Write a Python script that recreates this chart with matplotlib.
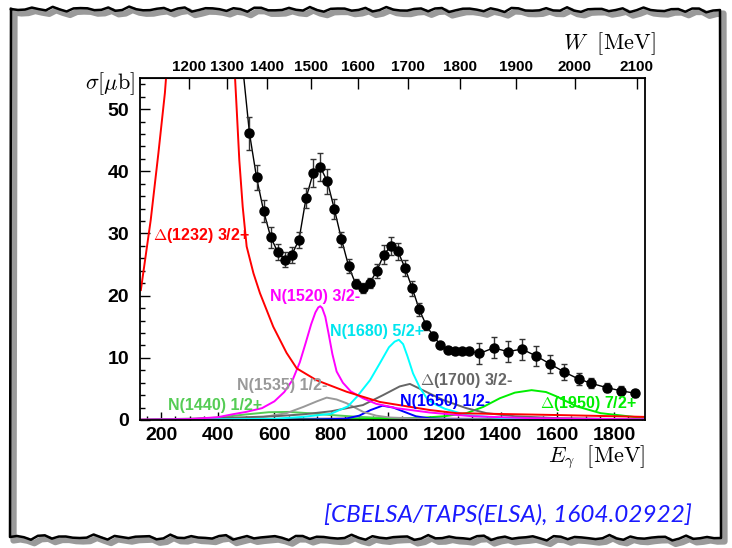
import numpy as np
import matplotlib.pyplot as plt
from matplotlib.lines import Line2D
from matplotlib.ticker import MultipleLocator

plt.rcParams['font.family'] = ['Liberation Sans', 'DejaVu Sans']
plt.rcParams['mathtext.fontset'] = 'cm'

MP = 938.27  # proton mass [MeV]

# ---- measured total cross section ----
e_gamma = [512, 537, 562, 587, 612, 637, 662, 687, 712, 737, 762, 787, 812, 837,
           862, 887, 912, 937, 962, 987, 1012, 1037, 1062, 1087, 1112, 1137, 1162,
           1187, 1212, 1237, 1262, 1287, 1325, 1375, 1425, 1475, 1525, 1575, 1625,
           1675, 1720, 1775, 1825, 1875]
sigma = [46.1, 39.0, 33.6, 29.4, 27.0, 25.8, 26.6, 29.0, 35.7, 39.7, 40.7, 38.4,
         33.9, 29.1, 24.8, 21.9, 21.3, 22.0, 24.0, 26.6, 28.0, 27.1, 24.4, 21.2,
         17.8, 15.2, 13.5, 12.1, 11.3, 11.1, 11.1, 11.1, 10.7, 11.6, 11.0, 11.4,
         10.3, 9.0, 7.7, 6.6, 5.9, 5.2, 4.7, 4.3]
sigma_err = [2.6, 2.0, 1.8, 1.7, 1.3, 1.2, 1.3, 1.3, 1.6, 2.2, 2.2, 2.0, 1.6, 1.2,
             1.1, 0.7, 0.8, 0.8, 1.1, 1.5, 1.5, 1.4, 1.3, 1.2, 1.0, 0.8, 0.7, 0.5,
             0.5, 0.5, 0.5, 0.5, 1.7, 1.7, 1.7, 1.7, 1.6, 1.4, 1.3, 1.0, 0.8, 0.7,
             0.7, 0.6]

# total fit (starts above the frame)
fit_e = [488] + e_gamma
fit_s = [56.8] + sigma

# ---- partial wave contributions ----
d1232_e = [128, 163, 190, 213, 222, 455, 461, 467, 476, 488, 502, 526, 549, 596,
           643, 679, 749, 855, 973, 1150, 1244, 1597, 1910]
d1232_s = [20.9, 32.2, 42.9, 52.6, 58.0, 60.0, 55.0, 49.8, 41.8, 34.3, 27.9, 23.6,
           20.4, 15.0, 10.8, 8.3, 6.4, 4.55, 2.9, 1.6, 1.1, 0.8, 0.5]

n1520_e = [128, 300, 400, 450, 500, 556, 600, 635, 665, 690, 710, 730, 745, 755,
           762, 769, 780, 792, 805, 820, 842, 870, 913, 960, 1032, 1150, 1300, 1500,
           1910]
n1520_s = [0.05, 0.15, 0.45, 0.9, 1.3, 1.9, 3.0, 4.5, 6.5, 9.3, 12.3, 15.4, 17.3,
           18.1, 18.3, 18.0, 16.6, 13.8, 10.6, 7.8, 6.0, 4.6, 3.5, 2.6, 1.9, 1.2,
           0.6, 0.3, 0.1]

n1680_e = [128, 600, 700, 800, 860, 891, 938, 975, 1005, 1025, 1040, 1055, 1070,
           1090, 1114, 1140, 1165, 1203, 1279, 1421, 1600, 1910]
n1680_s = [0.0, 0.2, 0.5, 1.0, 2.2, 3.7, 6.4, 9.3, 11.7, 12.6, 12.9, 12.2, 10.3,
           7.5, 5.2, 3.4, 2.6, 1.8, 0.8, 0.25, 0.1, 0.05]

d1700_e = [128, 400, 600, 700, 800, 913, 984, 1043, 1079, 1138, 1197, 1279, 1350,
           1450, 1600, 1910]
d1700_s = [0.05, 0.3, 0.6, 0.9, 1.4, 2.4, 4.0, 5.4, 5.8, 4.5, 3.2, 1.9, 1.1, 0.6,
           0.3, 0.1]

n1535_e = [128, 400, 550, 643, 702, 750, 785, 820, 855, 914, 960, 1008, 1150,
           1400, 1910]
n1535_s = [0.0, 0.1, 0.4, 1.1, 2.1, 3.0, 3.6, 3.3, 2.7, 1.3, 0.7, 0.4, 0.15,
           0.05, 0.0]

n1650_e = [128, 700, 850, 900, 940, 982, 1020, 1060, 1100, 1150, 1300, 1910]
n1650_s = [0.0, 0.05, 0.2, 0.7, 1.6, 2.3, 2.0, 1.3, 0.6, 0.25, 0.05, 0.0]

n1440_e = [128, 300, 400, 500, 580, 650, 720, 800, 900, 1000, 1200, 1910]
n1440_s = [0.0, 0.1, 0.4, 0.9, 1.25, 1.3, 1.1, 0.8, 0.5, 0.3, 0.15, 0.05]

d1950_e = [128, 600, 900, 1100, 1200, 1279, 1338, 1397, 1450, 1509, 1560, 1597,
           1668, 1753, 1870, 1910]
d1950_s = [0.0, 0.05, 0.15, 0.3, 0.6, 1.1, 2.1, 3.5, 4.4, 4.8, 4.5, 3.8, 2.2,
           1.1, 0.5, 0.4]

other_e = [128, 400, 700, 1000, 1300, 1600, 1910]
other_s = [0.05, 0.1, 0.2, 0.25, 0.2, 0.15, 0.1]

w_ticks = [1200, 1300, 1400, 1500, 1600, 1700, 1800, 1900, 2000, 2100]


def e_to_w(e):
    e = np.asarray(e, dtype=float)
    return np.sqrt(np.maximum(MP**2 + 2 * MP * e, 1.0))


def w_to_e(w):
    w = np.asarray(w, dtype=float)
    return (w**2 - MP**2) / (2 * MP)


fig = plt.figure(figsize=(7.32, 5.48), dpi=100)
ax = fig.add_axes([140 / 732, 128 / 548, 505 / 732, 342 / 548])

curves = [
    (other_e, other_s, '#993399'),
    (n1440_e, n1440_s, '#55cc55'),
    (d1950_e, d1950_s, '#00ee00'),
    (n1650_e, n1650_s, '#0000ff'),
    (n1535_e, n1535_s, '#999999'),
    (d1700_e, d1700_s, '#666666'),
    (n1680_e, n1680_s, '#00ffff'),
    (n1520_e, n1520_s, '#ff00ff'),
    (d1232_e, d1232_s, '#ff0000'),
]
for xe, ys, c in curves:
    ax.plot(xe, ys, color=c, lw=1.4, zorder=2)

ax.plot(fit_e, fit_s, color='black', lw=1.0, zorder=3)
ax.errorbar(e_gamma, sigma, yerr=sigma_err, fmt='o', color='black', ms=6.5,
            ecolor='#333333', elinewidth=1.0, capsize=2.5, capthick=1.0, zorder=4)

# labels of the contributions
lab_kw = dict(fontsize=11.5, fontweight='bold', va='center', ha='left', zorder=5)
ax.text(171, 29.7, r'$\Delta$(1232) 3/2+', color='#ff0000', **lab_kw)
ax.text(584, 19.9, 'N(1520) 3/2-', color='#ff00ff', **lab_kw)
ax.text(796, 14.3, 'N(1680) 5/2+', color='#00e5ee', **lab_kw)
ax.text(468, 5.5, 'N(1535) 1/2-', color='#999999', **lab_kw)
ax.text(1114, 6.4, r'$\Delta$(1700) 3/2-', color='#666666', **lab_kw)
ax.text(1044, 3.05, 'N(1650) 1/2-', color='#0000ff', **lab_kw)
ax.text(224, 2.4, 'N(1440) 1/2+', color='#55cc55', **lab_kw)
ax.text(1538, 2.7, r'$\Delta$(1950) 7/2+', color='#00ee00', **lab_kw)

ax.set_xlim(125, 1910)
ax.set_ylim(0, 55)
ax.xaxis.set_major_locator(MultipleLocator(200))
ax.xaxis.set_minor_locator(MultipleLocator(50))
ax.yaxis.set_major_locator(MultipleLocator(10))
ax.yaxis.set_minor_locator(MultipleLocator(2))
ax.tick_params(axis='x', which='major', direction='in', length=6, width=1,
               labelsize=14, pad=5)
ax.tick_params(axis='x', which='minor', direction='in', length=3, width=1)
ax.tick_params(axis='y', which='major', direction='in', length=7.5, width=1,
               labelsize=14, pad=8)
ax.tick_params(axis='y', which='minor', direction='in', length=3.8, width=1)
for lbl in ax.get_xticklabels() + ax.get_yticklabels():
    lbl.set_fontweight('bold')
for s in ax.spines.values():
    s.set_linewidth(1.3)

top = ax.secondary_xaxis('top', functions=(e_to_w, w_to_e))
top.set_xticks(w_ticks)
top.xaxis.set_minor_locator(plt.NullLocator())
top.tick_params(direction='in', length=8, width=1, labelsize=11, pad=3)
for lbl in top.get_xticklabels():
    lbl.set_fontweight('bold')

ax.text(-0.01, 0.985, r'$\sigma[\mu\mathrm{b}]$', transform=ax.transAxes,
        ha='right', va='center', fontsize=16)
ax.text(1.02, 1.10, r'$W\ \ [\mathrm{MeV}]$', transform=ax.transAxes,
        ha='right', va='center', fontsize=16)
ax.text(1.0, -0.108, r'$E_{\gamma}\ \ [\mathrm{MeV}]$', transform=ax.transAxes,
        ha='right', va='center', fontsize=16)

fig.text(508 / 732, 1 - 516 / 548, '[CBELSA/TAPS(ELSA), 1604.02922]',
         color='#1a1aff', fontsize=17.5, style='italic', family=['Lato', 'DejaVu Sans'],
         ha='center', va='center')


# hand-drawn looking frame with a grey shadow
def wobble(n, k):
    t = np.arange(n)
    return 1.5 * np.sin(t * 1.7 + k) + 1.0 * np.sin(t * 3.9 + 2 * k) + 0.6 * np.sin(t * 7.3 + k / 2)


def side(x0, y0, x1, y1, k):
    n = int(np.hypot(x1 - x0, y1 - y0) / 7) + 2
    t = np.linspace(0, 1, n)
    w = wobble(n, k)
    w[0] = w[-1] = 0
    xs = x0 + (x1 - x0) * t
    ys = y0 + (y1 - y0) * t
    if x0 == x1:
        xs = xs + w
    else:
        ys = ys + w
    return xs, ys


pts = [side(11, 9, 720, 10, 0.3), side(720, 10, 721, 538, 1.1),
       side(721, 538, 10, 537, 2.3), side(10, 537, 11, 9, 3.7)]
px = np.concatenate([p[0] for p in pts])
py = np.concatenate([p[1] for p in pts])
fig.add_artist(Line2D((px + 3.5) / 732, 1 - (py + 3.5) / 548, color='#9a9a9a',
                      lw=4.5, zorder=0, solid_joinstyle='round'))
fig.add_artist(Line2D(px / 732, 1 - py / 548, color='black', lw=1.8, zorder=1,
                      solid_joinstyle='round'))

fig.savefig('out.png', dpi=100)
